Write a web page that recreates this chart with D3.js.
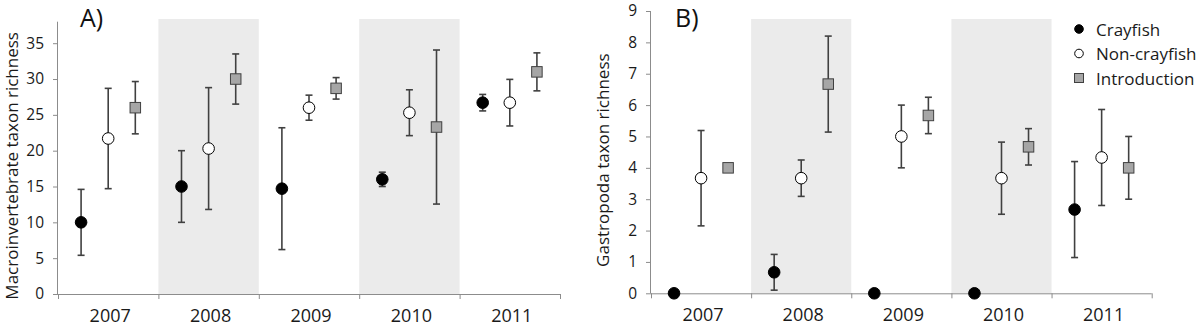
<!DOCTYPE html>
<html>
<head>
<meta charset="utf-8">
<script src="https://cdn.jsdelivr.net/npm/d3@7/dist/d3.min.js"></script>
<style>
  html, body { margin: 0; padding: 0; background: #fff; }
  svg { display: block; font-family: "Open Sans", "DejaVu Sans", sans-serif; }
</style>
</head>
<body>
<svg id="chart" width="1200" height="326"></svg>
<script>
// ---------- data ----------
const years = ["2007", "2008", "2009", "2010", "2011"];
const shadedYears = ["2008", "2010"];
const groups = ["Crayfish", "Non-crayfish", "Introduction"];

// Panel A: macroinvertebrate taxon richness (mean, ± error)
const macroCrayfish = [10.0, 15.0, 14.7, 16.0, 26.7];
const macroCrayfishErr = [4.6, 5.0, 8.5, 1.0, 1.15];
const macroNonCrayfish = [21.7, 20.3, 26.0, 25.3, 26.7];
const macroNonCrayfishErr = [7.0, 8.5, 1.75, 3.2, 3.25];
const macroIntroduction = [26.0, 30.0, 28.7, 23.3, 31.0];
const macroIntroductionErr = [3.65, 3.5, 1.5, 10.75, 2.65];
const macroTicks = [0, 5, 10, 15, 20, 25, 30, 35];
const macroMax = 38;

// Panel B: gastropoda taxon richness (mean, ± error)
const gastroCrayfish = [0, 0.67, 0, 0, 2.67];
const gastroCrayfishErr = [0, 0.57, 0, 0, 1.53];
const gastroNonCrayfish = [3.67, 3.67, 5.0, 3.67, 4.33];
const gastroNonCrayfishErr = [1.52, 0.58, 1.0, 1.15, 1.53];
const gastroIntroduction = [4.0, 6.67, 5.67, 4.67, 4.0];
const gastroIntroductionErr = [0, 1.53, 0.58, 0.58, 1.0];
const gastroTicks = [0, 1, 2, 3, 4, 5, 6, 7, 8, 9];
const gastroMax = 9;

// ---------- drawing ----------
const svg = d3.select("#chart");
const BAND_TOP = 19;

function build(series) {
  const rows = [];
  series.forEach(([g, m, e]) => {
    years.forEach((y, i) => rows.push({ group: g, year: y, mean: m[i], err: e[i] }));
  });
  return rows;
}

function panel(opts) {
  const { left, right, top, bottom, max, ticks, rows, label, title, titleX, ylabelX } = opts;
  const g = svg.append("g");

  const x = d3.scaleBand().domain(years).range([left, right]).padding(0);
  const inner = d3.scalePoint().domain(groups)
    .range([x.bandwidth() * 0.23, x.bandwidth() * 0.77]);
  const y = d3.scaleLinear().domain([0, max]).range([bottom, top]);

  // shaded years
  g.selectAll("rect.band").data(shadedYears).join("rect")
    .attr("class", "band")
    .attr("x", d => x(d)).attr("width", x.bandwidth())
    .attr("y", BAND_TOP).attr("height", bottom - BAND_TOP)
    .attr("fill", "#ebebeb");

  // y axis
  const yAxis = d3.axisLeft(y).tickValues(ticks).tickSize(5).tickPadding(9);
  const ya = g.append("g").attr("transform", `translate(${left},0)`).call(yAxis);
  ya.select(".domain").attr("stroke", "#8c8c8c").attr("d", `M-0.5,${top}V${bottom}`);
  ya.selectAll(".tick line").attr("stroke", "#8c8c8c");
  ya.selectAll(".tick text").attr("font-size", 15.5).attr("fill", "#1a1a1a")
    .attr("font-family", '"Open Sans", sans-serif');

  // x axis: line with ticks at category boundaries
  const bounds = years.map(d => x(d)).concat([right]);
  g.append("line").attr("x1", left).attr("x2", right).attr("y1", bottom + 0.5).attr("y2", bottom + 0.5)
    .attr("stroke", "#8c8c8c");
  g.selectAll("line.xt").data(bounds).join("line").attr("class", "xt")
    .attr("x1", d => d + 0.5).attr("x2", d => d + 0.5)
    .attr("y1", bottom).attr("y2", bottom + 5).attr("stroke", "#8c8c8c");
  g.selectAll("text.xl").data(years).join("text").attr("class", "xl")
    .attr("x", d => x(d) + x.bandwidth() / 2 + 2).attr("y", bottom + 28)
    .attr("text-anchor", "middle").attr("font-size", 18).attr("fill", "#1a1a1a")
    .text(d => d);

  // y label
  g.append("text")
    .attr("transform", `translate(${ylabelX},${(top + bottom) / 2 + 8}) rotate(-90)`)
    .attr("text-anchor", "middle").attr("dominant-baseline", "central")
    .attr("font-size", 17).attr("fill", "#1a1a1a").text(label);

  // panel title
  g.append("text").attr("x", titleX).attr("y", 27)
    .attr("font-size", 25).attr("fill", "#111").text(title);

  const cx = d => x(d.year) + inner(d.group);

  // error bars
  const eb = rows.filter(d => d.err > 0);
  const ebg = g.append("g").attr("stroke", "#404040").attr("stroke-width", 1.6).attr("fill", "none");
  ebg.selectAll("line.v").data(eb).join("line").attr("class", "v")
    .attr("x1", cx).attr("x2", cx)
    .attr("y1", d => y(d.mean - d.err)).attr("y2", d => y(d.mean + d.err));
  ebg.selectAll("line.lo").data(eb).join("line").attr("class", "lo")
    .attr("x1", d => cx(d) - 3.5).attr("x2", d => cx(d) + 3.5)
    .attr("y1", d => y(d.mean - d.err)).attr("y2", d => y(d.mean - d.err));
  ebg.selectAll("line.hi").data(eb).join("line").attr("class", "hi")
    .attr("x1", d => cx(d) - 3.5).attr("x2", d => cx(d) + 3.5)
    .attr("y1", d => y(d.mean + d.err)).attr("y2", d => y(d.mean + d.err));

  // markers
  g.selectAll("circle.pt").data(rows.filter(d => d.group !== "Introduction")).join("circle")
    .attr("class", "pt")
    .attr("cx", cx).attr("cy", d => y(d.mean)).attr("r", 5.8)
    .attr("fill", d => d.group === "Crayfish" ? "#000" : "#fff")
    .attr("stroke", "#000").attr("stroke-width", 1);
  const s = 10.5;
  g.selectAll("rect.pt").data(rows.filter(d => d.group === "Introduction")).join("rect")
    .attr("class", "pt")
    .attr("x", d => cx(d) - s / 2).attr("y", d => y(d.mean) - s / 2)
    .attr("width", s).attr("height", s)
    .attr("fill", "#a6a6a6").attr("stroke", "#404040").attr("stroke-width", 1);
}

panel({
  left: 58, right: 560, top: 21.7, bottom: 294, max: macroMax, ticks: macroTicks,
  rows: build([["Crayfish", macroCrayfish, macroCrayfishErr],
               ["Non-crayfish", macroNonCrayfish, macroNonCrayfishErr],
               ["Introduction", macroIntroduction, macroIntroductionErr]]),
  label: "Macroinvertebrate taxon richness", title: "A)", titleX: 80, ylabelX: 11
});

panel({
  left: 651, right: 1151.7, top: 11, bottom: 293.3, max: gastroMax, ticks: gastroTicks,
  rows: build([["Crayfish", gastroCrayfish, gastroCrayfishErr],
               ["Non-crayfish", gastroNonCrayfish, gastroNonCrayfishErr],
               ["Introduction", gastroIntroduction, gastroIntroductionErr]]),
  label: "Gastropoda taxon richness", title: "B)", titleX: 675, ylabelX: 602
});

// legend
const legendX = 1079, legendY0 = 29, legendDy = 24.5;
const lg = svg.append("g");
groups.forEach((name, i) => {
  const yy = legendY0 + i * legendDy;
  if (name === "Introduction") {
    lg.append("rect").attr("x", legendX - 4.5).attr("y", yy - 4.5).attr("width", 9).attr("height", 9)
      .attr("fill", "#a6a6a6").attr("stroke", "#404040");
  } else {
    lg.append("circle").attr("cx", legendX).attr("cy", yy).attr("r", 4.3)
      .attr("fill", name === "Crayfish" ? "#000" : "#fff").attr("stroke", "#000");
  }
  lg.append("text").attr("x", 1096).attr("y", yy).attr("dominant-baseline", "central")
    .attr("font-size", 17).attr("fill", "#1a1a1a").text(name);
});
</script>
</body>
</html>
